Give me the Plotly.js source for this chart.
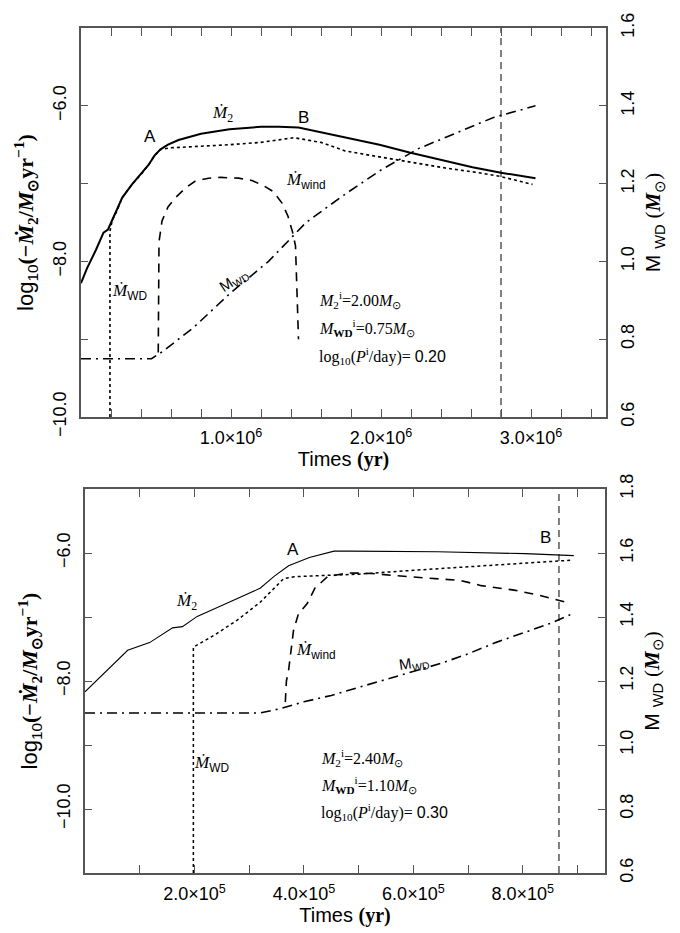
<!DOCTYPE html>
<html>
<head>
<meta charset="utf-8">
<script src="https://cdn.plot.ly/plotly-3.0.1.min.js"></script>
<style>html,body{margin:0;padding:0;background:#fff;}#chart{width:680px;height:933px;}</style>
</head>
<body>
<div id="chart"></div>
<script>
// ---------- Top panel (M2i = 2.00, MWDi = 0.75, logP = 0.20) ----------
const topM2Time = [0, 0.04e6, 0.10e6, 0.15e6, 0.18e6, 0.21e6, 0.24e6, 0.275e6, 0.34e6, 0.41e6, 0.45e6, 0.49e6, 0.53e6, 0.58e6, 0.65e6, 0.80e6, 0.99e6, 1.20e6, 1.32e6, 1.45e6, 1.60e6, 1.76e6, 1.99e6, 2.19e6, 2.40e6, 2.61e6, 2.80e6, 3.03e6];
const topM2Rate = [-8.28, -8.09, -7.85, -7.63, -7.59, -7.46, -7.35, -7.18, -7.01, -6.86, -6.76, -6.64, -6.56, -6.50, -6.44, -6.36, -6.30, -6.27, -6.27, -6.28, -6.34, -6.41, -6.50, -6.60, -6.70, -6.79, -6.86, -6.93];

const topWDRateTime = [0.193e6, 0.193e6, 0.21e6, 0.24e6, 0.275e6, 0.34e6, 0.41e6, 0.45e6, 0.49e6, 0.53e6, 0.60e6, 0.80e6, 0.99e6, 1.20e6, 1.42e6, 1.60e6, 1.76e6, 2.00e6, 2.21e6, 2.43e6, 2.65e6, 2.80e6, 3.01e6];
const topWDRate = [-10.0, -7.61, -7.46, -7.35, -7.18, -7.01, -6.86, -6.76, -6.64, -6.56, -6.54, -6.52, -6.50, -6.47, -6.41, -6.47, -6.58, -6.66, -6.73, -6.80, -6.86, -6.91, -7.01];

const topWindTime = [0.515e6, 0.515e6, 0.52e6, 0.54e6, 0.58e6, 0.63e6, 0.70e6, 0.76e6, 0.85e6, 0.93e6, 1.05e6, 1.14e6, 1.22e6, 1.28e6, 1.34e6, 1.38e6, 1.41e6, 1.43e6, 1.44e6, 1.45e6];
const topWindRate = [-9.17, -8.00, -7.75, -7.48, -7.30, -7.18, -7.05, -6.97, -6.93, -6.92, -6.93, -6.96, -7.03, -7.10, -7.25, -7.42, -7.62, -7.80, -8.30, -9.00];

const topMWDTime = [0, 0.47e6, 0.55e6, 0.75e6, 1.00e6, 1.25e6, 1.50e6, 1.75e6, 2.00e6, 2.25e6, 2.50e6, 2.75e6, 3.03e6];
const topMWD = [0.75, 0.75, 0.77, 0.83, 0.92, 1.00, 1.10, 1.17, 1.235, 1.29, 1.33, 1.37, 1.40];

const topEndTime = [2.8e6];

// ---------- Bottom panel (M2i = 2.40, MWDi = 1.10, logP = 0.30) ----------
const botM2Time = [0, 0.78e5, 1.18e5, 1.60e5, 1.78e5, 2.05e5, 2.50e5, 2.90e5, 3.20e5, 3.46e5, 3.72e5, 4.10e5, 4.55e5, 4.84e5, 6.44e5, 8.04e5, 8.93e5];
const botM2Rate = [-8.17, -7.52, -7.40, -7.17, -7.15, -6.99, -6.82, -6.66, -6.55, -6.36, -6.20, -6.07, -5.97, -5.97, -5.98, -6.01, -6.04];

const botWDRateTime = [1.98e5, 1.98e5, 2.35e5, 2.78e5, 3.20e5, 3.63e5, 3.82e5, 5.00e5, 6.00e5, 7.00e5, 8.00e5, 8.92e5];
const botWDRate = [-11.0, -7.47, -7.29, -7.05, -6.77, -6.40, -6.37, -6.33, -6.27, -6.21, -6.16, -6.11];

const botWindTime = [3.66e5, 3.68e5, 3.72e5, 3.81e5, 3.90e5, 4.06e5, 4.20e5, 4.43e5, 4.79e5, 5.24e5, 5.77e5, 6.44e5, 6.87e5, 7.24e5, 7.84e5, 8.30e5, 8.80e5];
const botWindRate = [-8.33, -8.00, -7.83, -7.21, -6.95, -6.79, -6.55, -6.37, -6.31, -6.32, -6.36, -6.40, -6.43, -6.51, -6.58, -6.66, -6.77];

const botMWDTime = [0, 3.2e5, 3.6e5, 4.0e5, 4.5e5, 5.0e5, 5.5e5, 6.0e5, 6.5e5, 7.0e5, 7.5e5, 8.0e5, 8.5e5, 8.9e5];
const botMWD = [1.10, 1.10, 1.115, 1.135, 1.155, 1.18, 1.205, 1.23, 1.255, 1.285, 1.32, 1.35, 1.38, 1.41];

const botEndTime = [8.66e5];

// ---------- tick labels ----------
const topXTickVals = [1e6, 2e6, 3e6];
const topXTickText = ['1.0×10<sup>6</sup>', '2.0×10<sup>6</sup>', '3.0×10<sup>6</sup>'];
const botXTickVals = [2e5, 4e5, 6e5, 8e5];
const botXTickText = ['2.0×10<sup>5</sup>', '4.0×10<sup>5</sup>', '6.0×10<sup>5</sup>', '8.0×10<sup>5</sup>'];
const leftYTickVals = [-10, -8, -6];
const leftYTickText = ['−10.0', '−8.0', '−6.0'];
const topRightTickVals = [0.6, 0.8, 1.0, 1.2, 1.4, 1.6];
const botRightTickVals = [0.6, 0.8, 1.0, 1.2, 1.4, 1.6, 1.8];

const topYRange = [-10, -5];
const topRightRange = [0.6, 1.6];
const botYRange = [-11, -5];
const botRightRange = [0.6, 1.8];

// ---------- traces ----------
const BLACK = '#000';
function line(x, y, xa, ya, dash, width) {
  return {x: x, y: y, xaxis: xa, yaxis: ya, type: 'scatter', mode: 'lines',
          line: {color: BLACK, width: width, dash: dash}, hoverinfo: 'skip', showlegend: false};
}
const traces = [
  line(topM2Time, topM2Rate, 'x', 'y', 'solid', 2),
  line(topWDRateTime, topWDRate, 'x', 'y', 'dot', 1.6),
  line(topWindTime, topWindRate, 'x', 'y', '9px,7px', 1.6),
  line(topMWDTime, topMWD, 'x', 'y2', '10px,5px,2px,5px', 1.6),
  line([topEndTime[0], topEndTime[0]], topYRange, 'x', 'y', '7px,5px', 1),
  line(botM2Time, botM2Rate, 'x2', 'y3', 'solid', 1.1),
  line(botWDRateTime, botWDRate, 'x2', 'y3', 'dot', 1.5),
  line(botWindTime, botWindRate, 'x2', 'y3', '9px,7px', 1.6),
  line(botMWDTime, botMWD, 'x2', 'y4', '10px,5px,2px,5px', 1.6),
  line([botEndTime[0], botEndTime[0]], botYRange, 'x2', 'y3', '7px,5px', 1)
];

// ---------- layout ----------
const FRAME = '#555';
const SANS = 'Liberation Sans, Arial, sans-serif';
const SERIF = 'Liberation Serif, Times New Roman, serif';
const tickFont = {family: SANS, size: 18, color: '#000'};

function xAxis(range, vals, text, minorStep, anchor, domain) {
  return {range: range, domain: domain, anchor: anchor, showgrid: false, zeroline: false,
          showline: true, linecolor: FRAME, linewidth: 1.6, mirror: 'allticks',
          ticks: 'inside', ticklen: 8, tickwidth: 1, tickcolor: FRAME,
          tickvals: vals, ticktext: text, tickfont: tickFont, ticklabelstandoff: 4,
          minor: {dtick: minorStep, ticks: 'inside', ticklen: 5, tickcolor: FRAME, showgrid: false},
          title: {text: 'Times <b style="font-family:' + SERIF + '">(yr)</b>', font: {family: SANS, size: 20, color: '#000'}, standoff: 4}};
}
function yLeft(range, domain, anchor) {
  return {range: range, domain: domain, anchor: anchor, showgrid: false, zeroline: false,
          showline: true, linecolor: FRAME, linewidth: 1.6,
          ticks: 'inside', ticklen: 7, tickwidth: 1, tickcolor: FRAME,
          tickvals: leftYTickVals, ticktext: leftYTickText, tickangle: -90, tickfont: tickFont, ticklabelstandoff: 6,
          minor: {dtick: 1, ticks: 'inside', ticklen: 7, tickcolor: FRAME, showgrid: false},
          title: {text: 'log<sub>10</sub><span style="font-family:' + SERIF + '"><b>(−<i>Ṁ</i><sub>2</sub>/<i>M</i><sub>⊙</sub>yr<sup>−1</sup>)</b></span>',
                  font: {family: SANS, size: 22, color: '#000'}, standoff: 10}};
}
function yRight(range, vals, overlay, anchor) {
  return {range: range, overlaying: overlay, anchor: anchor, side: 'right', showgrid: false, zeroline: false,
          showline: true, linecolor: FRAME, linewidth: 1.6,
          ticks: 'inside', ticklen: 7, tickwidth: 1, tickcolor: FRAME,
          tickvals: vals, ticktext: vals.map(v => v.toFixed(1)), tickangle: -90, tickfont: tickFont, ticklabelstandoff: 5,
          title: {text: 'M <sub>WD</sub> <span style="font-family:' + SERIF + '">(<b><i>M</i></b><sub>⊙</sub>)</span>',
                  font: {family: SANS, size: 21, color: '#000'}, standoff: 8}};
}

const topDom = [0.5396, 1];
const botDom = [0, 0.4544];

function ann(x, y, xref, yref, text, size, family, angle) {
  return {x: x, y: y, xref: xref, yref: yref, text: text, showarrow: false,
          font: {family: family || SANS, size: size || 16, color: '#000'}, textangle: angle || 0,
          xanchor: 'center', yanchor: 'middle'};
}
function annL(x, y, xref, yref, text, size) {
  const a = ann(x, y, xref, yref, text, size, SERIF);
  a.xanchor = 'left';
  return a;
}

const annotations = [
  // top panel labels
  ann(0.46e6, -6.40, 'x', 'y', 'A', 17),
  ann(0.94e6, -6.10, 'x', 'y', '<i>Ṁ</i><sub>2</sub>', 17, SERIF),
  ann(1.48e6, -6.15, 'x', 'y', 'B', 17),
  ann(1.50e6, -6.97, 'x', 'y', '<i>Ṁ</i><sub><span style="font-family:' + SANS + '">wind</span></sub>', 17, SERIF),
  ann(0.32e6, -8.39, 'x', 'y', '<i>Ṁ</i><sub><span style="font-family:' + SANS + '">WD</span></sub>', 17, SERIF),
  ann(1.02e6, -8.25, 'x', 'y', 'M<sub>WD</sub>', 15, SANS, -33),
  annL(1.57e6, -8.49, 'x', 'y', '<i>M</i><sub>2</sub><sup>i</sup>=2.00<i>M</i><sub>⊙</sub>', 16),
  annL(1.57e6, -8.85, 'x', 'y', '<i>M</i><sub><b>WD</b></sub><sup>i</sup>=0.75<i>M</i><sub>⊙</sub>', 16),
  annL(1.57e6, -9.21, 'x', 'y', 'log<sub>10</sub>(<i>P</i><sup>i</sup>/day)= <span style="font-family:' + SANS + '">0.20</span>', 16),
  // bottom panel labels
  ann(3.80e5, -5.95, 'x2', 'y3', 'A', 17),
  ann(8.42e5, -5.76, 'x2', 'y3', 'B', 17),
  ann(1.86e5, -6.77, 'x2', 'y3', '<i>Ṁ</i><sub>2</sub>', 17, SERIF),
  ann(4.22e5, -7.53, 'x2', 'y3', '<i>Ṁ</i><sub><span style="font-family:' + SANS + '">wind</span></sub>', 17, SERIF),
  ann(6.02e5, -7.72, 'x2', 'y3', 'M<sub>WD</sub>', 15, SANS, -8),
  ann(2.32e5, -9.29, 'x2', 'y3', '<i>Ṁ</i><sub><span style="font-family:' + SANS + '">WD</span></sub>', 17, SERIF),
  annL(4.28e5, -9.20, 'x2', 'y3', '<i>M</i><sub>2</sub><sup>i</sup>=2.40<i>M</i><sub>⊙</sub>', 16),
  annL(4.28e5, -9.62, 'x2', 'y3', '<i>M</i><sub><b>WD</b></sub><sup>i</sup>=1.10<i>M</i><sub>⊙</sub>', 16),
  annL(4.28e5, -10.04, 'x2', 'y3', 'log<sub>10</sub>(<i>P</i><sup>i</sup>/day)= <span style="font-family:' + SANS + '">0.30</span>', 16)
];

const layout = {
  width: 680, height: 933,
  margin: {l: 81, r: 74, t: 28, b: 60},
  paper_bgcolor: '#fff', plot_bgcolor: '#fff',
  showlegend: false,
  font: {family: SANS, color: '#000'},
  xaxis: xAxis([0, 3.5e6], topXTickVals, topXTickText, 2e5, 'y', [0, 1]),
  yaxis: yLeft(topYRange, topDom, 'x'),
  yaxis2: yRight(topRightRange, topRightTickVals, 'y', 'x'),
  xaxis2: xAxis([0, 9.5e5], botXTickVals, botXTickText, 1e5, 'y3', [0.0076, 0.998]),
  yaxis3: yLeft(botYRange, botDom, 'x2'),
  yaxis4: yRight(botRightRange, botRightTickVals, 'y3', 'x2'),
  annotations: annotations
};

Plotly.newPlot('chart', traces, layout, {staticPlot: true, displayModeBar: false});
</script>
</body>
</html>
